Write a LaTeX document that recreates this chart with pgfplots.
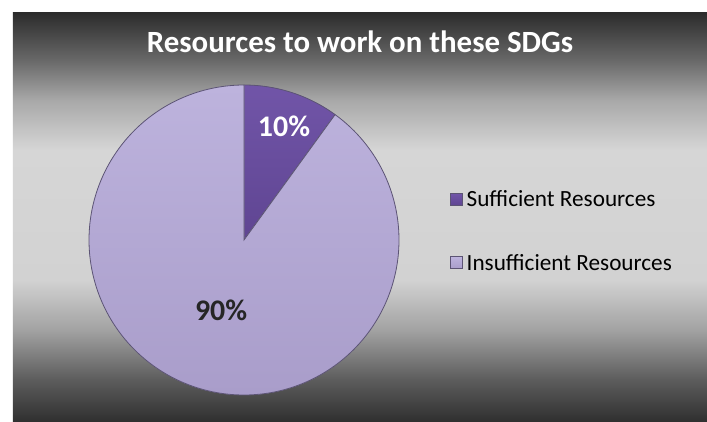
\documentclass[border=0pt]{standalone}
\usepackage{pgfplots}
\pgfplotsset{compat=1.18}
\usepackage{pgfplotstable}
\usepackage{fontspec}
\setmainfont{Carlito}
\definecolor{suf}{HTML}{6B4FA0}
\definecolor{suftop}{HTML}{7155A8}
\definecolor{sufbot}{HTML}{5F4592}
\definecolor{insuf}{HTML}{B6ABD6}
\definecolor{insuftop}{HTML}{BDB3DD}
\definecolor{insufbot}{HTML}{A99DCA}
\definecolor{pieedge}{HTML}{5C5474}
\definecolor{bga}{HTML}{303030}
\definecolor{bgb}{HTML}{5C5C5C}
\definecolor{bgc}{HTML}{A2A2A2}
\definecolor{bgd}{HTML}{D2D2D2}
\definecolor{bge}{HTML}{D6D6D6}
\definecolor{bgf}{HTML}{A8A8A8}
\definecolor{bgg}{HTML}{686868}
\definecolor{bgh}{HTML}{2C2C2C}
\pgfdeclareverticalshading{bgshade}{100bp}{color(0bp)=(bga); color(25bp)=(bga); color(30.02bp)=(bgb); color(36.15bp)=(bgc); color(42.28bp)=(bgd); color(58.21bp)=(bge); color(64.34bp)=(bgf); color(69.24bp)=(bgg); color(75bp)=(bgh); color(100bp)=(bgh)}

\pgfplotstableread{
label value
Sufficient 10
Insufficient 90
}\piedata
\pgfplotstablegetelem{0}{value}\of\piedata \let\vA\pgfplotsretval
\pgfplotstablegetelem{1}{value}\of\piedata \let\vB\pgfplotsretval
\pgfmathsetmacro\aEnd{90-3.6*\vA}
\pgfmathsetmacro\bStart{\aEnd-3.6*\vB}

\begin{document}
\begin{tikzpicture}[x=1bp,y=1bp]
% page: pie center at (155,155); image spans x -89..618, y -26..395
\fill[white] (-89,-26) rectangle (618,395);
\shade[shading=bgshade] (-76,-26) rectangle (618,382);
\node[white, font=\bfseries\fontsize{31}{36}\selectfont] at (271,353) {Resources to work on these SDGs};
\begin{axis}[width=310bp, height=310bp,
  scale only axis, xmin=-1, xmax=1, ymin=-1, ymax=1, hide axis, clip=false,
  legend image code/.code={\fill[#1] (0bp,-6bp) rectangle (12bp,6bp);},
  legend style={at={(1.165,0.529)}, anchor=west, draw=none, fill=none,
    font=\fontsize{23.3}{27}\selectfont, inner sep=0pt, row sep=39bp,
    nodes={inner sep=3.5bp}},
  legend cell align=left]
\addplot[top color=suftop, bottom color=sufbot, fill=suf, draw=pieedge, line width=0.8bp, domain=\aEnd:90, samples=60] ({cos(x)},{sin(x)}) -- (axis cs:0,0) -- cycle;
\addlegendentry{Sufficient Resources}
\addplot[top color=insuftop, bottom color=insufbot, fill=insuf, draw=pieedge, line width=0.8bp, domain=\bStart:\aEnd, samples=240] ({cos(x)},{sin(x)}) -- (axis cs:0,0) -- cycle;
\addlegendentry{Insufficient Resources}
\node[white, font=\bfseries\fontsize{30}{34}\selectfont] at (axis cs:0.258,0.735) {10\%};
\node[black!85, font=\bfseries\fontsize{30}{34}\selectfont] at (axis cs:-0.148,-0.452) {90\%};
\end{axis}
\end{tikzpicture}
\end{document}
